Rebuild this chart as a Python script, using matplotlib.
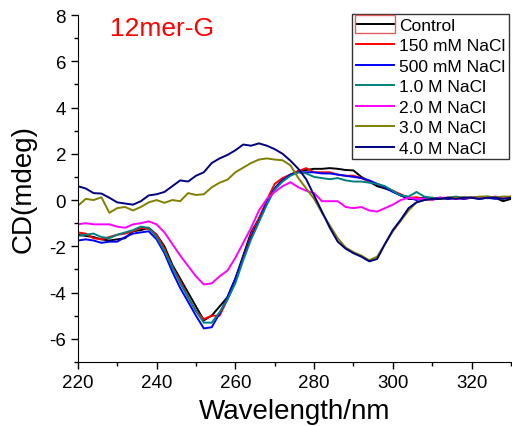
import matplotlib
matplotlib.use("Agg")
import matplotlib.pyplot as plt
from matplotlib.patches import Rectangle
from matplotlib.ticker import MultipleLocator

plt.rcParams['font.family'] = ['Liberation Sans', 'DejaVu Sans']
plt.rcParams['axes.unicode_minus'] = False

# wavelength grid (nm)
wavelength = [220, 222, 224, 226, 228, 230, 232, 234, 236, 238,
              240, 242, 244, 246, 248, 250, 252, 254, 256, 258,
              260, 262, 264, 266, 268, 270, 272, 274, 276, 278,
              280, 282, 284, 286, 288, 290, 292, 294, 296, 298,
              300, 302, 304, 306, 308, 310, 312, 314, 316, 318,
              320, 322, 324, 326, 328, 330]

control = [-1.5, -1.55, -1.6, -1.7, -1.75, -1.7, -1.65, -1.35, -1.3, -1.2,
           -1.5, -2.0, -2.8, -3.4, -4.0, -4.6, -5.2, -5.0, -4.6, -4.2,
           -3.4, -2.4, -1.4, -0.8, -0.1, 0.5, 0.9, 1.1, 1.25, 1.3,
           1.35, 1.35, 1.38, 1.35, 1.3, 1.28, 1.0, 0.8, 0.6, 0.5,
           0.38, 0.2, 0.05, 0.05, 0.1, 0.08, 0.1, 0.05, 0.1, 0.08,
           0.1, 0.12, 0.08, 0.1, -0.05, 0.05]

nacl_150mm = [-1.4, -1.45, -1.65, -1.7, -1.6, -1.5, -1.45, -1.35, -1.2, -1.25,
              -1.5, -2.1, -2.9, -3.5, -4.2, -4.8, -5.15, -5.0, -5.0, -4.3,
              -3.5, -2.5, -1.5, -0.8, 0.0, 0.7, 0.95, 1.1, 1.25, 1.38,
              1.2, 1.2, 1.2, 1.1, 1.05, 1.05, 0.95, 0.8, 0.7, 0.55,
              0.4, 0.25, 0.1, 0.12, 0.05, 0.1, 0.05, 0.1, 0.1, 0.05,
              0.1, 0.1, 0.12, 0.08, 0.1, 0.1]

nacl_500mm = [-1.75, -1.7, -1.75, -1.85, -1.8, -1.8, -1.6, -1.45, -1.4, -1.35,
              -1.7, -2.3, -3.1, -3.8, -4.4, -5.0, -5.55, -5.5, -4.9, -4.2,
              -3.4, -2.5, -1.6, -0.9, -0.1, 0.5, 0.85, 1.1, 1.2, 1.2,
              1.2, 1.15, 1.15, 1.1, 1.05, 1.0, 0.95, 0.85, 0.7, 0.55,
              0.35, 0.2, 0.1, 0.0, 0.1, 0.05, 0.1, 0.05, 0.1, 0.05,
              0.1, 0.05, 0.1, 0.05, 0.1, 0.1]

nacl_1m = [-1.55, -1.5, -1.45, -1.6, -1.65, -1.5, -1.4, -1.3, -1.15, -1.2,
           -1.6, -2.2, -2.9, -3.6, -4.2, -4.8, -5.3, -5.3, -4.85, -4.3,
           -3.6, -2.6, -1.7, -0.95, -0.2, 0.45, 0.8, 1.05, 1.2, 1.15,
           1.0, 0.95, 0.9, 0.95, 0.85, 0.8, 0.8, 0.75, 0.7, 0.6,
           0.4, 0.2, 0.15, 0.35, 0.15, 0.1, 0.05, 0.1, 0.15, 0.1,
           0.1, 0.12, 0.15, 0.1, 0.1, 0.12]

nacl_2m = [-1.05, -1.0, -1.05, -1.05, -1.05, -1.15, -1.2, -1.05, -1.0, -0.92,
           -1.05, -1.4, -1.9, -2.4, -2.85, -3.3, -3.65, -3.6, -3.3, -3.05,
           -2.5, -1.85, -1.2, -0.45, 0.05, 0.35, 0.6, 0.77, 0.55, 0.4,
           0.3, -0.05, -0.05, -0.05, -0.3, -0.35, -0.3, -0.45, -0.5, -0.35,
           -0.2, 0.0, 0.1, 0.05, 0.05, 0.0, 0.1, 0.1, 0.05, 0.1,
           0.1, 0.12, 0.1, 0.15, 0.1, 0.15]

nacl_3m = [-0.25, 0.05, 0.0, 0.12, -0.55, -0.35, -0.3, -0.45, -0.3, -0.1,
           0.0, -0.12, 0.0, -0.05, 0.3, 0.22, 0.25, 0.55, 0.75, 0.88,
           1.2, 1.4, 1.6, 1.75, 1.8, 1.75, 1.72, 1.5, 0.95, 0.5,
           0.05, -0.55, -1.1, -1.65, -2.05, -2.25, -2.4, -2.6, -2.45, -1.9,
           -1.35, -0.9, -0.45, -0.1, 0.0, 0.05, 0.05, 0.1, 0.1, 0.12,
           0.1, 0.15, 0.15, 0.12, 0.15, 0.15]

nacl_4m = [0.6, 0.5, 0.3, 0.28, 0.1, -0.1, -0.15, -0.2, -0.05, 0.2,
           0.25, 0.35, 0.6, 0.85, 0.8, 1.05, 1.2, 1.6, 1.8, 1.95,
           2.15, 2.4, 2.35, 2.45, 2.35, 2.2, 2.0, 1.7, 1.35, 0.9,
           0.2, -0.5, -1.2, -1.8, -2.1, -2.3, -2.45, -2.65, -2.55, -1.9,
           -1.3, -0.85, -0.35, -0.1, 0.0, 0.05, 0.05, 0.1, 0.05, 0.1,
           0.1, 0.05, 0.1, 0.1, 0.05, 0.1]

labels = ['Control', '150 mM NaCl', '500 mM NaCl', '1.0 M NaCl',
          '2.0 M NaCl', '3.0 M NaCl', '4.0 M NaCl']
colors = ['black', '#ff0000', '#0000ff', '#008080', '#ff00ff', '#808000', '#000080']
series = [control, nacl_150mm, nacl_500mm, nacl_1m, nacl_2m, nacl_3m, nacl_4m]

fig = plt.figure(figsize=(5.12, 4.27), dpi=100)
ax = fig.add_axes([0.152, 0.15, 0.846, 0.8125])

for ys, c, lab in zip(series, colors, labels):
    ax.plot(wavelength, ys, color=c, lw=1.4, label=lab)

ax.set_xlim(220, 330)
ax.set_ylim(-7, 8)
ax.xaxis.set_major_locator(MultipleLocator(20))
ax.xaxis.set_minor_locator(MultipleLocator(10))
ax.yaxis.set_major_locator(MultipleLocator(2))
ax.yaxis.set_minor_locator(MultipleLocator(1))
ax.tick_params(which='major', direction='out', length=5, width=1, labelsize=13.5)
ax.tick_params(which='minor', direction='out', length=3, width=1)
for s in ['top', 'right']:
    ax.spines[s].set_visible(False)

ax.set_xlabel('Wavelength/nm', fontsize=20, labelpad=5)
ax.set_ylabel('CD(mdeg)', fontsize=20, labelpad=9)

ax.text(0.074, 0.962, '12mer-G', color='#ff0000', fontsize=19,
        transform=ax.transAxes, va='center', ha='left')

leg = ax.legend(loc='upper right', bbox_to_anchor=(0.995, 1.003), fontsize=12.5,
                frameon=True, fancybox=False, edgecolor='black',
                handlelength=2.2, handletextpad=0.3, labelspacing=0.31,
                borderpad=0.2, borderaxespad=0)
leg.get_frame().set_linewidth(1.0)

# selection box drawn round the first legend handle in the original
fig.canvas.draw()
hb = leg.legend_handles[0].get_window_extent(fig.canvas.get_renderer())
fig.patches.append(Rectangle((hb.x0 - 1, hb.y0 - 9), hb.width + 2, 18,
                             transform=None, fill=False,
                             edgecolor='#e06060', lw=1))

plt.savefig('out.png', dpi=100)
